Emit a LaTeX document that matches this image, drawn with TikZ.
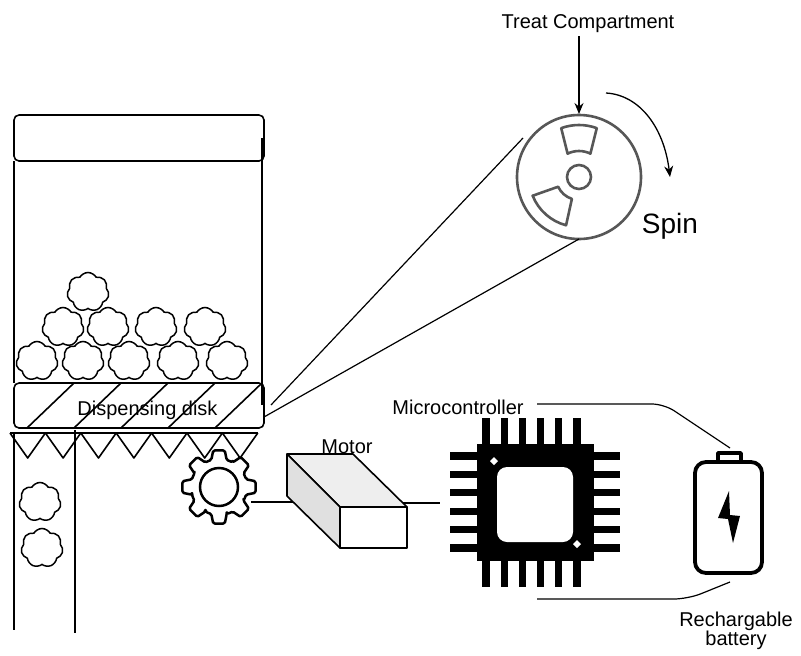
\documentclass[tikz,border=0pt]{standalone}
\usepackage{fontspec}
\setmainfont{Liberation Sans}
\usetikzlibrary{arrows.meta,shapes.symbols}
\definecolor{wheelgray}{HTML}{575757}
\definecolor{topface}{HTML}{EEEEEE}
\definecolor{sideface}{HTML}{E0E0E0}
\begin{document}
\begin{tikzpicture}[x=1pt,y=-1pt,
  outline/.style={line width=1.6pt, line join=round},
  txt/.style={font=\fontsize{20}{18}\selectfont, inner sep=0pt},
  treat/.style={cloud, cloud puffs=7, cloud puff arc=120, aspect=1.08, draw,
    line width=1.5pt, minimum width=42pt, minimum height=39pt, inner sep=0pt},
  wheel/.style={draw=wheelgray, line width=2.6pt, line join=round},
  pin/.style={fill=black, draw=none},
  wire/.style={line width=1.2pt},
  pointer/.style={line width=1.3pt, -{Stealth[length=11pt,width=9pt]}}
]
\useasboundingbox (0,0) rectangle (801,656);

% ---------- hopper ----------
\draw[outline, rounded corners=5] (14,115) rectangle (264,161);
\draw[outline] (14,161) -- (14,383);
\draw[outline] (262,138) -- (262,405);

% treats waiting in the hopper
\foreach \n/\x/\y in {t1/88/292, t2/63/327, t3/108/327, t4/156/327, t5/205/327,
    t6/37/361, t7/83/361, t8/129/361, t9/178/361, t10/227/361}
  \node[treat] (\n) at (\x,\y) {};

% dispensing disk with hatching
\draw[outline, fill=white, rounded corners=5] (14,383) rectangle (264,428);
\begin{scope}
  \clip[rounded corners=5] (14,383) rectangle (264,428);
  \foreach \b in {27,74,121,168,215}
    \draw[outline] (\b,428) -- (\b+47,383);
\end{scope}
\draw[outline] (262,383) -- (262,405);
\node[txt, anchor=base] (disklabel) at (147.5,415) {Dispensing disk};
\coordinate (diskA) at (264,417);
\coordinate (diskB) at (271,405);

% serrated outlet plate
\draw[outline] (10,433) -- (258,433);
\foreach \i in {0,...,6}
  \draw[outline] (10+35.4*\i,433) -- (27.7+35.4*\i,458) -- (45.4+35.4*\i,433);

% chute
\draw[outline] (14,433) -- (14,630);
\draw[outline] (75,430) -- (75,633);
\node[treat] (c1) at (40,502) {};
\node[treat] (c2) at (42,548) {};

% ---------- gear ----------
\begin{scope}[shift={(219,487)}]
  \draw[line width=2.5pt, rounded corners=1.5pt, line join=round]
    (-16:28) \foreach \a in {0,45,...,315} {
      -- ({\a-16}:28) -- ({\a-9}:37) -- ({\a+9}:37) -- ({\a+16}:28)
      arc[start angle=\a+16, end angle=\a+29, radius=28]
    } -- cycle;
  \draw[line width=2.5pt] (0,0) circle[radius=19];
\end{scope}
\coordinate (gearR) at (251,502);

% ---------- motor ----------
\coordinate (motorL) at (293,502);
\coordinate (motorR) at (402,503);
\coordinate (chipL) at (440,503);
\draw[wire] (gearR) -- (motorL);
\draw[wire] (motorR) -- (chipL);
\draw[outline, fill=topface] (287,454) -- (353,454) -- (407,507) -- (340,507) -- cycle;
\draw[outline, fill=sideface] (287,454) -- (340,507) -- (340,548) -- (287,496) -- cycle;
\draw[outline, fill=white] (340,507) rectangle (407,548);
\node[txt, anchor=base] (motorlabel) at (347,453) {Motor};

% ---------- microcontroller ----------
\fill (477,444) rectangle (594,561);
\foreach \p in {486,504.2,522.4,540.6,558.8,577} {
  \fill[pin] (\p-3.6,418) rectangle (\p+3.6,444);
  \fill[pin] (\p-3.6,561) rectangle (\p+3.6,587);
}
\foreach \p in {456,474.4,492.8,511.2,529.6,548} {
  \fill[pin] (450,\p-3.6) rectangle (477,\p+3.6);
  \fill[pin] (594,\p-3.6) rectangle (620,\p+3.6);
}
\fill[white, rounded corners=10] (497,467) rectangle (573,542);
\fill[white] (494,457) -- (498,461) -- (494,465) -- (490,461) -- cycle;
\fill[white] (577,540) -- (581,544) -- (577,548) -- (573,544) -- cycle;
\node[txt, anchor=base] (mculabel) at (458,414) {Microcontroller};
\coordinate (mcuTop) at (537,404);
\coordinate (mcuBot) at (537,599);

% ---------- battery ----------
\draw[line width=3.8pt, rounded corners=11] (695,462) rectangle (762,573);
\draw[line width=3.8pt, line join=round] (718,462) -- (718,453) -- (741,453) -- (741,462);
\fill (729,491) -- (718,518) -- (728,519) -- (733,543) -- (740,516) -- (730,515) -- cycle;
\coordinate (batTop) at (730,448);
\coordinate (batBot) at (730,582);
\node[txt, align=center] (batlabel) at (736,631) {Rechargable\\battery};

\draw[wire, rounded corners=12] (mcuTop) -- (664,404) -- (batTop);
\draw[wire, rounded corners=14] (mcuBot) -- (688,599) -- (batBot);

% ---------- spinning treat wheel ----------
\begin{scope}[shift={(579,177)}]
  \draw[wheel] (0,0) circle[radius=62];
  \draw[wheel] (0,0) circle[radius=12];
  \draw[wheel] (-70:52) arc[start angle=-70, end angle=-110, radius=52]
    -- (-116:26) arc[start angle=-116, end angle=-64, radius=26] -- cycle;
  \draw[wheel] (-202:50) arc[start angle=-202, end angle=-255, radius=50]
    -- (-252:23) arc[start angle=-252, end angle=-205, radius=23] -- cycle;
  \coordinate (wheelTop) at (0,-63);
  \coordinate (wheelNW) at (-56,-39);
  \coordinate (wheelS) at (0,62);
\end{scope}

\node[txt, anchor=base] (treatlabel) at (588,28) {Treat Compartment};
\coordinate (treatArrow) at (579,36);
\draw[pointer] (treatArrow) -- (wheelTop);

\coordinate (spinStart) at (606,93);
\coordinate (spinEnd) at (670,177);
\draw[pointer] (spinStart) .. controls (640,95) and (664,128) .. (spinEnd);
\node[font=\fontsize{28}{30}\selectfont, inner sep=0pt, anchor=base] (spinlabel) at (670,233) {Spin};

% zoom lines from the disk to the wheel
\draw[wire] (diskA) -- (wheelS);
\draw[wire] (diskB) -- (wheelNW);
\end{tikzpicture}
\end{document}
